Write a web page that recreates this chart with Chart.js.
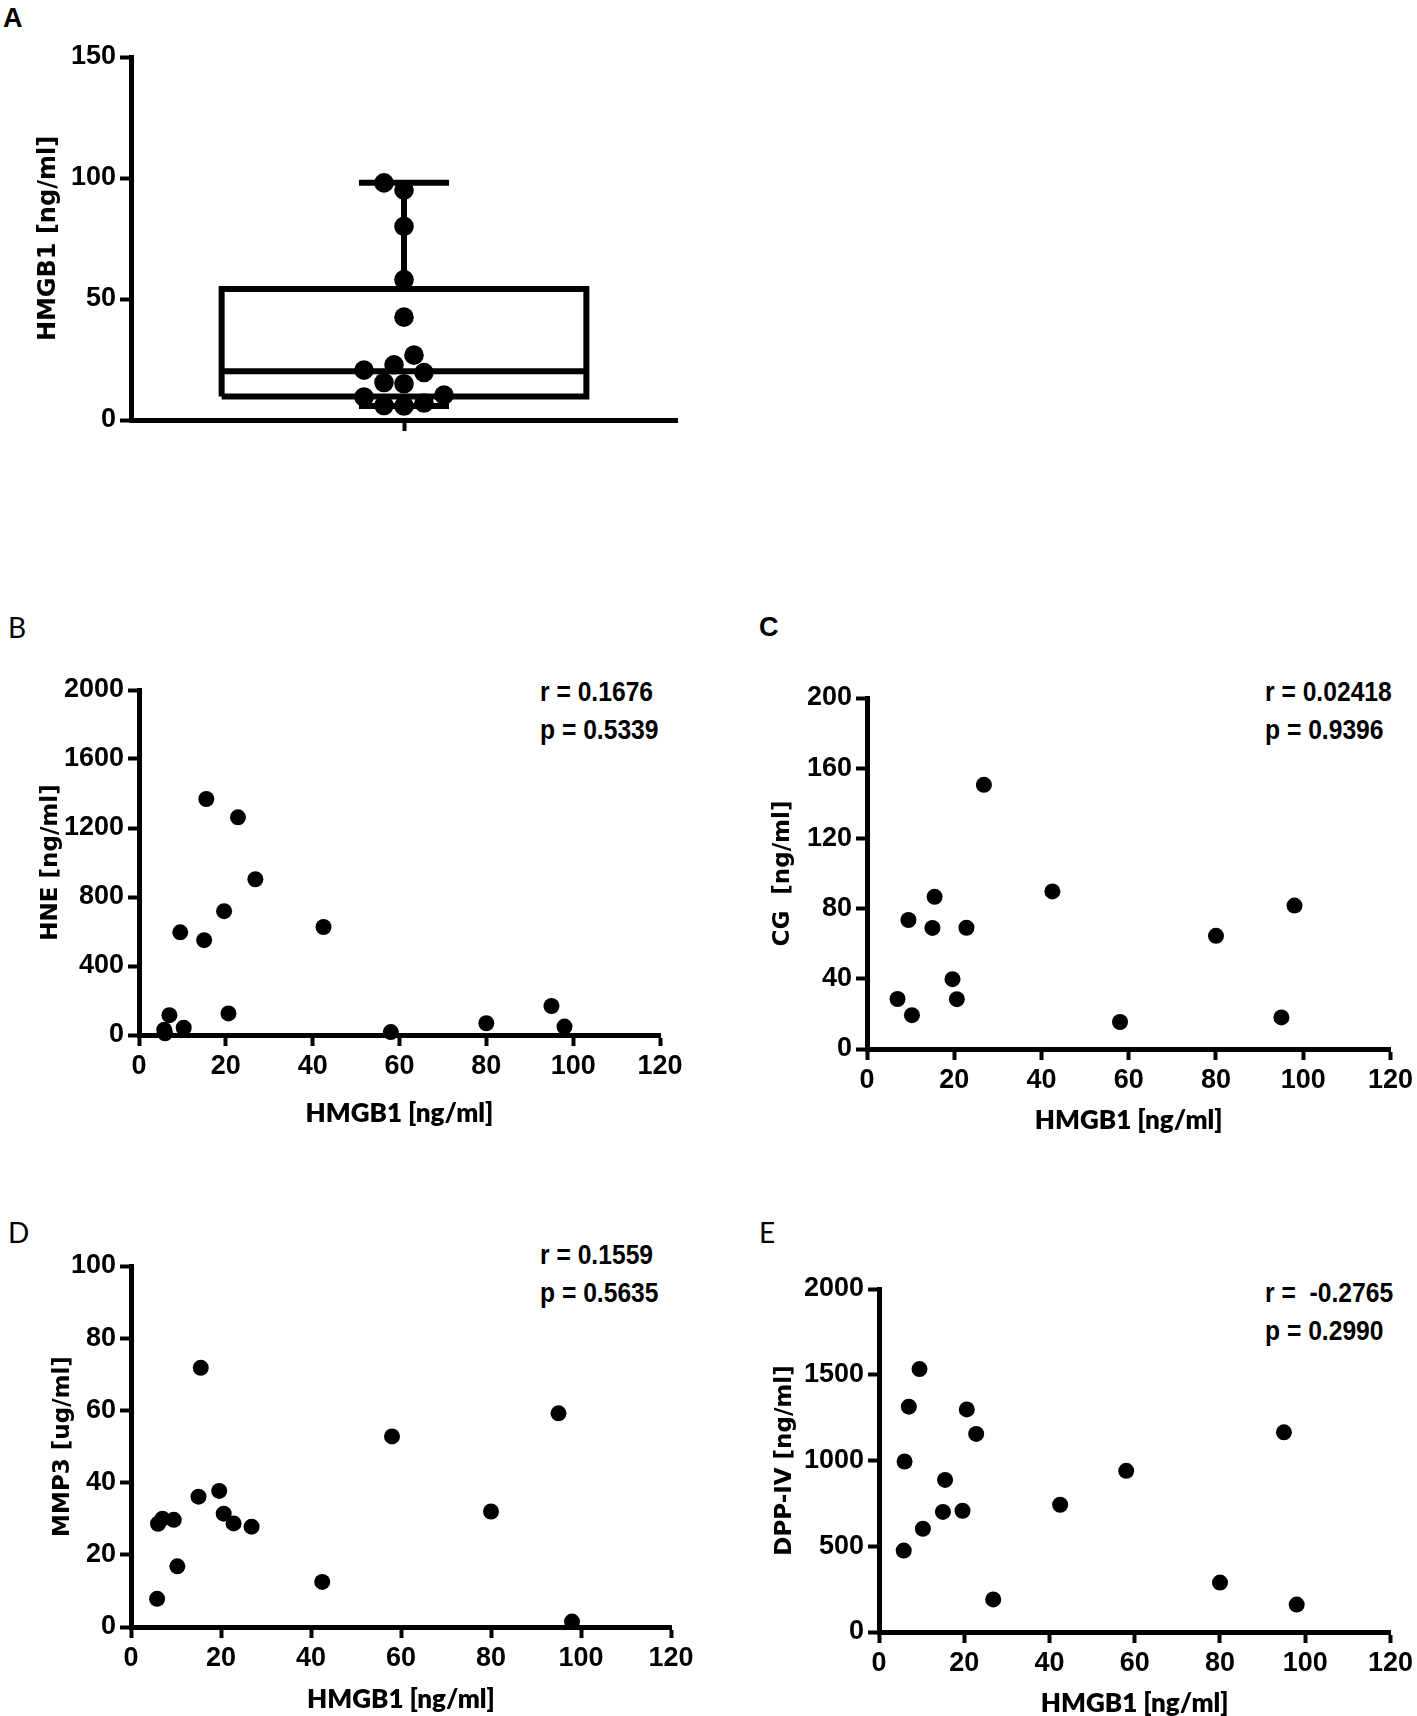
<!DOCTYPE html>
<html>
<head>
<meta charset="utf-8">
<title>HMGB1 correlations</title>
<script src="https://cdn.jsdelivr.net/npm/chart.js@4.4.1/dist/chart.umd.min.js"></script>
<style>
    html, body { margin: 0; padding: 0; background: #fff; }
    body { position: relative; width: 1417px; height: 1716px; overflow: hidden; }
    canvas { position: absolute; }
    .tag { position: absolute; color: #000; white-space: pre; }
    .letter { font-family: 'Liberation Sans', Arial, sans-serif; font-size: 27px; line-height: 27px; font-weight: bold; }
    .letter.soft { font-family: Lato, 'Liberation Sans', sans-serif; font-size: 28px; line-height: 28px; font-weight: normal; }
    .stat { font-family: 'Liberation Sans', Arial, sans-serif; font-weight: bold; font-size: 28px; line-height: 28px;
            transform: scaleX(0.88); transform-origin: 0 0; }
</style>
</head>
<body>
<div class="tag letter" style="left:3px;top:5px">A</div>
<div class="tag letter soft" style="left:8px;top:613px">B</div>
<div class="tag letter" style="left:759px;top:614px">C</div>
<div class="tag letter soft" style="left:8px;top:1218px">D</div>
<div class="tag letter soft" style="left:759px;top:1218px">E</div>

<div class="tag stat" id="statB1" style="left:540px;top:678px"></div>
<div class="tag stat" id="statB2" style="left:540px;top:716px"></div>
<div class="tag stat" id="statC1" style="left:1265px;top:678px"></div>
<div class="tag stat" id="statC2" style="left:1265px;top:716px"></div>
<div class="tag stat" id="statD1" style="left:540px;top:1241px"></div>
<div class="tag stat" id="statD2" style="left:540px;top:1279px"></div>
<div class="tag stat" id="statE1" style="left:1265px;top:1279px"></div>
<div class="tag stat" id="statE2" style="left:1265px;top:1317px"></div>

<canvas id="chartA"></canvas>
<canvas id="chartB"></canvas>
<canvas id="chartC"></canvas>
<canvas id="chartD"></canvas>
<canvas id="chartE"></canvas>

<script>
// Serum HMGB1 and its correlation with HNE, CG, MMP3 and DPP-IV

// HMGB1 [ng/ml] per patient (same order in every panel)
const hmgb1 = [5.8, 6.0, 7.0, 9.5, 10.3, 15.0, 15.5, 19.6, 20.6, 22.8, 26.8, 42.5, 58.0, 80.0, 95.0, 98.0];
// HNE [ng/ml]
const hne = [30, 10, 115, 595, 42, 550, 1368, 718, 125, 1262, 903, 626, 17, 68, 168, 49];
// CG [ng/ml] (two patients not measured)
const cg = [null, null, 28.5, 73.5, 19.3, 69, 86.7, 39.8, 28.4, 69.1, 150.5, 89.8, 15.4, 64.5, 18, 81.7];
// MMP3 [ug/ml]
const mmp3 = [7.8, 28.6, 30, 29.7, 16.8, 36.1, 71.8, 37.7, 31.4, 28.7, 27.8, 12.5, 52.8, 32, 59.2, 1.5];
// DPP-IV [ng/ml]
const dpp4 = [475, 994, 1314, 1533, 602, 700, 887, 707, 1298, 1155, 190, 742, 940, 288, 1164, 160];

// Tick labels
const hmgb1BoxTicks = [0, 50, 100, 150];
const hmgb1Ticks = [0, 20, 40, 60, 80, 100, 120];
const hneTicks = [0, 400, 800, 1200, 1600, 2000];
const cgTicks = [0, 40, 80, 120, 160, 200];
const mmp3Ticks = [0, 20, 40, 60, 80, 100];
const dpp4Ticks = [0, 500, 1000, 1500, 2000];

// Spearman results
const statB = ['r = 0.1676', 'p = 0.5339'];
const statC = ['r = 0.02418', 'p = 0.9396'];
const statD = ['r = 0.1559', 'p = 0.5635'];
const statE = ['r =  -0.2765', 'p = 0.2990'];

const INK = '#000';
const tickFont = { family: "'Liberation Sans', Arial, sans-serif", size: 27, weight: 'bold' };
const yTitleFont = { family: "'DejaVu Sans', sans-serif", size: 23, weight: 'bold' };
const xTitleFont = { family: "Lato, 'Open Sans', sans-serif", size: 26, weight: 800 };

// Percentile as GraphPad does it (rank = p * (n + 1))
function percentile(sorted, p) {
    const n = sorted.length;
    const rank = p * (n + 1);
    const lo = Math.floor(rank);
    const frac = rank - lo;
    if (lo < 1) return sorted[0];
    if (lo >= n) return sorted[n - 1];
    return sorted[lo - 1] + frac * (sorted[lo] - sorted[lo - 1]);
}

// Simple beeswarm: spread points sideways so dots do not overlap
function swarm(values, pxPerX, pxPerY, dotPx) {
    const order = values.map((v, i) => i).sort((a, b) => values[a] - values[b]);
    const placed = [];
    const out = new Array(values.length);
    const step = dotPx / 2;
    order.forEach(i => {
        const y = values[i] * pxPerY;
        for (let k = 0; k < 40; k++) {
            const off = k === 0 ? 0 : (k % 2 ? -1 : 1) * Math.ceil(k / 2) * step;
            if (placed.every(p => Math.hypot(p.x - off, p.y - y) >= dotPx - 0.5)) {
                placed.push({ x: off, y });
                out[i] = { x: off / pxPerX, y: values[i] };
                break;
            }
        }
    });
    return out;
}

// Build a linear axis
function axis(min, max, ticks, title, titleFont, titlePad) {
    return {
        type: 'linear',
        min, max,
        afterBuildTicks: s => { s.ticks = ticks.map(v => ({ value: v })); },
        ticks: { color: INK, font: tickFont, padding: 4, autoSkip: false, maxRotation: 0, minRotation: 0, callback: v => String(v) },
        grid: { display: true, drawOnChartArea: false, drawTicks: true, tickLength: 11, tickWidth: 4, color: INK },
        border: { display: true, width: 5, color: INK },
        title: { display: !!title, text: title, color: INK, font: titleFont, padding: titlePad }
    };
}

// Place a chart so that its plot area lands on `area`
function makeChart(id, area, pad, xScale, yScale, datasets) {
    const cv = document.getElementById(id);
    const w = area.r - area.l + pad.l + pad.r;
    const h = area.b - area.t + pad.t + pad.b;
    cv.width = w;
    cv.height = h;
    cv.style.left = (area.l - pad.l) + 'px';
    cv.style.top = (area.t - pad.t) + 'px';
    cv.style.width = w + 'px';
    cv.style.height = h + 'px';
    xScale.afterFit = s => { s.height = pad.b; };
    yScale.afterFit = s => { s.width = pad.l; };
    return new Chart(cv, {
        type: 'scatter',
        data: { datasets },
        options: {
            responsive: false,
            animation: false,
            layout: { padding: { top: pad.t, right: pad.r, bottom: 0, left: 0 } },
            plugins: { legend: { display: false }, tooltip: { enabled: false } },
            scales: { x: xScale, y: yScale }
        }
    });
}

function dots(points, radius) {
    return {
        data: points,
        pointRadius: radius,
        pointBackgroundColor: INK,
        pointBorderWidth: 0,
        pointHoverRadius: radius,
        showLine: false,
        clip: false
    };
}

function pairs(xs, ys) {
    return xs.map((x, i) => ({ x, y: ys[i] })).filter(p => p.y !== null);
}

function segment(points, width) {
    return {
        data: points,
        showLine: true,
        borderColor: INK,
        borderWidth: width,
        borderJoinStyle: 'miter',
        borderCapStyle: 'butt',
        pointRadius: 0,
        pointHoverRadius: 0,
        clip: false
    };
}

// Panel A: box and whiskers (min to max) with all points
const areaA = { l: 131, t: 57, r: 677, b: 420 };
const sorted = hmgb1.slice().sort((a, b) => a - b);
const q1 = percentile(sorted, 0.25);
const med = percentile(sorted, 0.5);
const q3 = percentile(sorted, 0.75);
const lo = sorted[0];
const hi = sorted[sorted.length - 1];
const boxHalf = 0.668;
const capHalf = 0.165;
const pxPerX = (areaA.r - areaA.l) / 2;
const pxPerY = (areaA.b - areaA.t) / 150;
const boxDots = swarm(hmgb1, pxPerX, pxPerY, 20);

const xA = axis(-1, 1, [0], '', xTitleFont, 0);
xA.ticks.callback = () => '';
makeChart('chartA', areaA, { l: 131, t: 30, r: 20, b: 30 },
    xA,
    axis(0, 150, hmgb1BoxTicks, 'HMGB1 [ng/ml]', { ...yTitleFont, size: 24 }, { top: 34 }),
    [
        dots(boxDots, 9.8),
        segment([{ x: -boxHalf, y: q1 }, { x: boxHalf, y: q1 }, { x: boxHalf, y: q3 }, { x: -boxHalf, y: q3 }, { x: -boxHalf, y: q1 }], 6),
        segment([{ x: -boxHalf, y: med }, { x: boxHalf, y: med }], 6),
        segment([{ x: 0, y: q3 }, { x: 0, y: hi }], 6),
        segment([{ x: 0, y: q1 }, { x: 0, y: lo }], 6),
        segment([{ x: -capHalf, y: hi }, { x: capHalf, y: hi }], 6),
        segment([{ x: -capHalf, y: lo }, { x: capHalf, y: lo }], 6)
    ]);

// Panel B: HNE
makeChart('chartB', { l: 139, t: 690, r: 660, b: 1035 }, { l: 139, t: 30, r: 40, b: 100 },
    axis(0, 120, hmgb1Ticks, 'HMGB1 [ng/ml]', xTitleFont, { bottom: 6 }),
    axis(0, 2000, hneTicks, 'HNE [ng/ml]', yTitleFont, { top: 37 }),
    [dots(pairs(hmgb1, hne), 8)]);

// Panel C: CG
makeChart('chartC', { l: 867, t: 698, r: 1393, b: 1049 }, { l: 147, t: 30, r: 24, b: 95 },
    axis(0, 120, hmgb1Ticks, 'HMGB1 [ng/ml]', xTitleFont, { bottom: 8 }),
    axis(0, 200, cgTicks, 'CG  [ng/ml]', yTitleFont, { top: 49 }),
    [dots(pairs(hmgb1, cg), 8)]);

// Panel D: MMP3
makeChart('chartD', { l: 131, t: 1266, r: 671, b: 1627 }, { l: 131, t: 30, r: 40, b: 100 },
    axis(0, 120, hmgb1Ticks, 'HMGB1 [ng/ml]', xTitleFont, { bottom: 12 }),
    axis(0, 100, mmp3Ticks, 'MMP3 [ug/ml]', yTitleFont, { top: 49 }),
    [dots(pairs(hmgb1, mmp3), 8)]);

// Panel E: DPP-IV
makeChart('chartE', { l: 879, t: 1289, r: 1393, b: 1632 }, { l: 159, t: 30, r: 24, b: 100 },
    axis(0, 120, hmgb1Ticks, 'HMGB1 [ng/ml]', xTitleFont, { bottom: 13 }),
    axis(0, 2000, dpp4Ticks, 'DPP-IV [ng/ml]', yTitleFont, { top: 51 }),
    [dots(pairs(hmgb1, dpp4), 8)]);

// Correlation text
[['statB', statB], ['statC', statC], ['statD', statD], ['statE', statE]].forEach(([id, lines]) => {
    document.getElementById(id + '1').textContent = lines[0];
    document.getElementById(id + '2').textContent = lines[1];
});
</script>
</body>
</html>
